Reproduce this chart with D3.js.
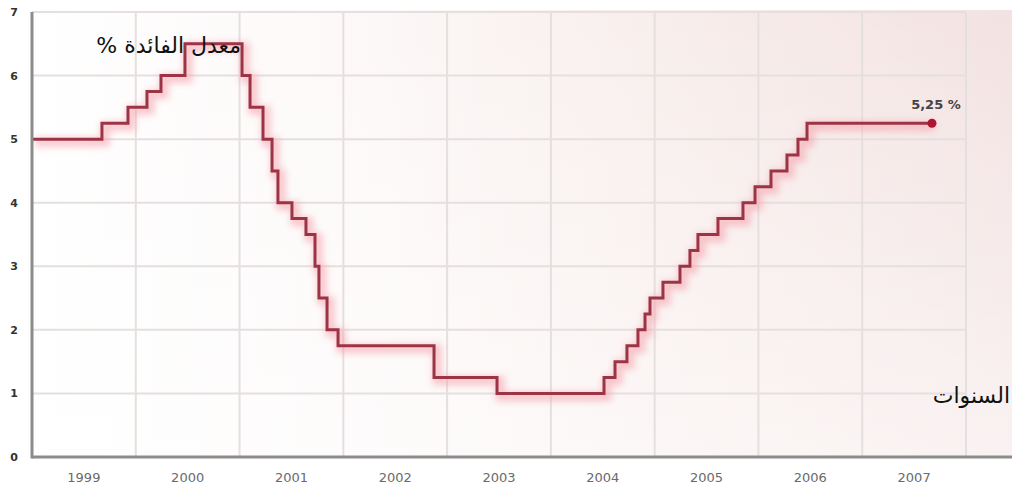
<!DOCTYPE html>
<html>
<head>
<meta charset="utf-8">
<script src="https://cdn.jsdelivr.net/npm/d3@7"></script>
<style>
  html, body { margin: 0; padding: 0; background: #fff; }
  svg { display: block; }
</style>
</head>
<body>
<svg id="chart" width="1012" height="488"></svg>
<script>
// Federal funds target rate, 1999–2007 (fractional year of each change, rate in %)
const changeDates = [
  1999.0, 1999.674, 1999.925, 2000.108, 2000.243, 2000.474,
  2001.024, 2001.101, 2001.226, 2001.313, 2001.370, 2001.505, 2001.640,
  2001.727, 2001.765, 2001.843, 2001.949, 2002.874, 2003.481,
  2004.512, 2004.618, 2004.733, 2004.839, 2004.907, 2004.955,
  2005.080, 2005.244, 2005.340, 2005.417, 2005.610, 2005.851, 2005.967,
  2006.121, 2006.275, 2006.381, 2006.468, 2007.672
];
const rates = [
  5.0, 5.25, 5.5, 5.75, 6.0, 6.5,
  6.0, 5.5, 5.0, 4.5, 4.0, 3.75, 3.5,
  3.0, 2.5, 2.0, 1.75, 1.25, 1.0,
  1.25, 1.5, 1.75, 2.0, 2.25, 2.5,
  2.75, 3.0, 3.25, 3.5, 3.75, 4.0, 4.25,
  4.5, 4.75, 5.0, 5.25, 5.25
];
const yearLabels = ["1999", "2000", "2001", "2002", "2003", "2004", "2005", "2006", "2007"];
const rateTicks = [0, 1, 2, 3, 4, 5, 6, 7];
const lastLabel = "5,25 %";
const yTitle = "معدل الفائدة %";
const xTitle = "السنوات";

const svg = d3.select("#chart");
const W = 1012, H = 488;

const x = d3.scaleLinear().domain([1999, 2008]).range([32, 966]);
const y = d3.scaleLinear().domain([0, 7]).range([457, 12]);

const defs = svg.append("defs");

// plot background: white on the left, warming to a pale pink on the right
const bgH = defs.append("linearGradient").attr("id", "bgH")
  .attr("x1", "0").attr("x2", "1").attr("y1", "0").attr("y2", "0");
bgH.append("stop").attr("offset", "0%").attr("stop-color", "#ffffff");
bgH.append("stop").attr("offset", "35%").attr("stop-color", "#fcf8f7");
bgH.append("stop").attr("offset", "70%").attr("stop-color", "#f7ecea");
bgH.append("stop").attr("offset", "100%").attr("stop-color", "#f3e2e2");
svg.append("rect").attr("x", 32).attr("y", 10).attr("width", W - 32).attr("height", 447)
  .attr("fill", "url(#bgH)");

// fade the wash out toward the bottom
const bgV = defs.append("linearGradient").attr("id", "bgV")
  .attr("x1", "0").attr("x2", "0").attr("y1", "0").attr("y2", "1");
bgV.append("stop").attr("offset", "0%").attr("stop-color", "#ffffff").attr("stop-opacity", 0);
bgV.append("stop").attr("offset", "100%").attr("stop-color", "#ffffff").attr("stop-opacity", 0.55);
svg.append("rect").attr("x", 32).attr("y", 10).attr("width", W - 32).attr("height", 447)
  .attr("fill", "url(#bgV)");

// pink shadow behind the rate line
const glow = defs.append("filter").attr("id", "glow")
  .attr("x", "-10%").attr("y", "-10%").attr("width", "120%").attr("height", "120%");
glow.append("feGaussianBlur").attr("stdDeviation", 3.5);

// gridlines
const grid = svg.append("g").attr("stroke", "#e6dfdf").attr("stroke-width", 2);
grid.selectAll("line.h").data(rateTicks.filter(d => d > 0)).join("line")
  .attr("x1", x(1999)).attr("x2", x(2008))
  .attr("y1", d => y(d)).attr("y2", d => y(d));
grid.selectAll("line.v").data(d3.range(2000, 2009)).join("line")
  .attr("x1", d => x(d)).attr("x2", d => x(d))
  .attr("y1", y(7)).attr("y2", y(0));

// rate line
const points = changeDates.map((d, i) => [d, rates[i]]);
const line = d3.line().x(d => x(d[0])).y(d => y(d[1])).curve(d3.curveStepAfter);

svg.append("path").datum(points)
  .attr("d", line)
  .attr("fill", "none")
  .attr("stroke", "#f5a0ab")
  .attr("stroke-width", 9)
  .attr("opacity", 0.6)
  .attr("transform", "translate(3,3)")
  .attr("filter", "url(#glow)");

svg.append("path").datum(points)
  .attr("d", line)
  .attr("fill", "none")
  .attr("stroke", "#9c3445")
  .attr("stroke-width", 3)
  .attr("stroke-linejoin", "miter");

const last = points[points.length - 1];
svg.append("circle")
  .attr("cx", x(last[0])).attr("cy", y(last[1])).attr("r", 4.5)
  .attr("fill", "#b0142e");

svg.append("text")
  .attr("x", x(last[0]) + 4).attr("y", y(last[1]) - 14)
  .attr("text-anchor", "middle")
  .attr("font-family", "DejaVu Sans, sans-serif")
  .attr("font-size", 13).attr("font-weight", "bold")
  .attr("fill", "#444")
  .text(lastLabel);

// axes
const xAxis = d3.axisBottom(x).tickValues([]).tickSizeOuter(0);
const yAxis = d3.axisLeft(y).tickValues(rateTicks).tickSize(0).tickPadding(14).tickFormat(d3.format("d"));

const gx = svg.append("g").attr("transform", `translate(0,${y(0)})`).call(xAxis);
gx.select(".domain").remove();
svg.append("line").attr("x1", x(1999)).attr("x2", W).attr("y1", y(0)).attr("y2", y(0))
  .attr("stroke", "#8c8c8c").attr("stroke-width", 3);

const gy = svg.append("g").attr("transform", `translate(${x(1999)},0)`).call(yAxis);
gy.select(".domain").remove();
gy.selectAll("text")
  .attr("font-family", "DejaVu Sans, sans-serif")
  .attr("font-size", 11).attr("font-weight", "bold")
  .attr("fill", "#333");
svg.append("line").attr("x1", x(1999)).attr("x2", x(1999)).attr("y1", y(7)).attr("y2", y(0) + 1.5)
  .attr("stroke", "#8c8c8c").attr("stroke-width", 3);

// year labels centred within each year
svg.append("g").selectAll("text").data(yearLabels).join("text")
  .attr("x", d => x(+d + 0.5))
  .attr("y", 482)
  .attr("text-anchor", "middle")
  .attr("font-family", "DejaVu Sans, sans-serif")
  .attr("font-size", 13)
  .attr("fill", "#6a6a6a")
  .text(d => d);

// titles
svg.append("text")
  .attr("x", 241).attr("y", 53)
  .attr("direction", "rtl")
  .attr("text-anchor", "start")
  .attr("font-family", "DejaVu Sans, sans-serif")
  .attr("font-size", 22)
  .attr("fill", "#111")
  .text(yTitle);

svg.append("text")
  .attr("x", 1010).attr("y", 403)
  .attr("direction", "rtl")
  .attr("text-anchor", "start")
  .attr("font-family", "DejaVu Sans, sans-serif")
  .attr("font-size", 22)
  .attr("fill", "#111")
  .text(xTitle);
</script>
</body>
</html>
